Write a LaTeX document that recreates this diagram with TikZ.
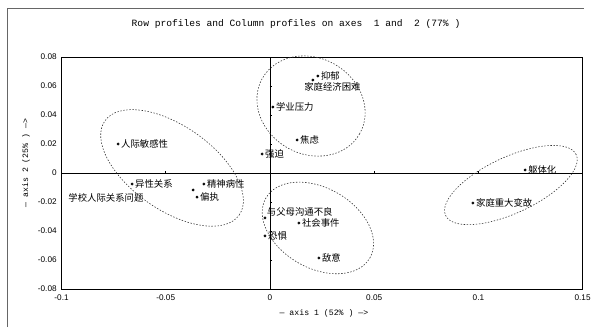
\documentclass[tikz,border=0pt]{standalone}
\usepackage{fontspec}
\setsansfont{Liberation Sans}
\setmonofont{Liberation Mono}
\newfontfamily\cjk{Noto Sans CJK SC}
\usetikzlibrary{positioning}

\begin{document}
\begin{tikzpicture}[x=62.52cm, y=43.5cm,
    lbl/.style={font=\cjk\fontsize{8}{9}\selectfont, inner sep=1.5pt},
    ticklbl/.style={font=\sffamily\fontsize{7}{8}\selectfont, inner sep=1pt},
    grp/.style={line width=0.5pt, black!80, dash pattern=on 1.2pt off 1.4pt}]

    \useasboundingbox (-0.12955,-0.10621) rectangle (0.15547,0.11931);

    % outer frame of the page (left and top only)
    \draw[black!60, line width=0.6pt] (-0.1262,-0.1062) -- (-0.1262,0.1138) -- (0.1507,0.1138);

    % title
    \node[font=\ttfamily\fontsize{8.2}{10}\selectfont] (title) at (0.0125,0.1028)
        {Row profiles and Column profiles on axes~~1 and~~2 (77\% )};

    % plot box and zero lines
    \draw[line width=0.8pt] (-0.1,-0.08) rectangle (0.15,0.08);
    \draw[line width=0.8pt] (-0.1,0) -- (0.15,0);
    \draw[line width=0.8pt] (0,-0.08) -- (0,0.08);

    % small ticks on the zero lines
    \draw[line width=0.5pt] (-0.05,0) -- +(0,0.0015);
    \draw[line width=0.5pt] (0.05,0) -- +(0,0.0015);
    \draw[line width=0.5pt] (0.1,0) -- +(0,0.0015);
    \draw[line width=0.5pt] (0,0.06) -- +(0.001,0);
    \draw[line width=0.5pt] (0,0.04) -- +(0.001,0);
    \draw[line width=0.5pt] (0,0.02) -- +(0.001,0);
    \draw[line width=0.5pt] (0,-0.02) -- +(0.001,0);
    \draw[line width=0.5pt] (0,-0.04) -- +(0.001,0);
    \draw[line width=0.5pt] (0,-0.06) -- +(0.001,0);

    % y tick labels
    \node[ticklbl, left=3pt] (y8) at (-0.1,0.08) {0.08};
    \node[ticklbl, left=3pt] (y6) at (-0.1,0.06) {0.06};
    \node[ticklbl, left=3pt] (y4) at (-0.1,0.04) {0.04};
    \node[ticklbl, left=3pt] (y2) at (-0.1,0.02) {0.02};
    \node[ticklbl, left=3pt] (y0) at (-0.1,0) {0};
    \node[ticklbl, left=3pt] (ym2) at (-0.1,-0.02) {-0.02};
    \node[ticklbl, left=3pt] (ym4) at (-0.1,-0.04) {-0.04};
    \node[ticklbl, left=3pt] (ym6) at (-0.1,-0.06) {-0.06};
    \node[ticklbl, left=3pt] (ym8) at (-0.1,-0.08) {-0.08};

    % x tick labels
    \node[ticklbl, below=4pt] (xm10) at (-0.1,-0.08) {-0.1};
    \node[ticklbl, below=4pt] (xm5) at (-0.05,-0.08) {-0.05};
    \node[ticklbl, below=4pt] (x0) at (0,-0.08) {0};
    \node[ticklbl, below=4pt] (x5) at (0.05,-0.08) {0.05};
    \node[ticklbl, below=4pt] (x10) at (0.1,-0.08) {0.1};
    \node[ticklbl, below=4pt] (x15) at (0.15,-0.08) {0.15};

    % axis titles
    \node[font=\ttfamily\fontsize{7}{8}\selectfont] (xtitle) at (0.0259,-0.0966) {— axis 1 (52\% ) —>};
    \node[font=\ttfamily\fontsize{7}{8}\selectfont, rotate=90] (ytitle) at (-0.1171,0.0069) {— axis 2 (25\% ) —>};

    % points, top group
    \filldraw (0.0230,0.0669) circle (1pt) node[lbl, right=1pt] (yiyu) {抑郁};
    \filldraw (0.0206,0.0641) circle (1pt) node[lbl, below right=0pt and -9pt] (jingji) {家庭经济困难};
    \filldraw (0.0014,0.0455) circle (1pt) node[lbl, right=1pt] (xueye) {学业压力};
    \filldraw (0.0130,0.0228) circle (1pt) node[lbl, right=1pt] (jiaolv) {焦虑};
    \filldraw (-0.0038,0.0131) circle (1pt) node[lbl, right=1pt] (qiangpo) {强迫};

    % points, left group
    \filldraw (-0.0729,0.0200) circle (1pt) node[lbl, right=1pt] (minganxing) {人际敏感性};
    \filldraw (-0.0662,-0.0076) circle (1pt) node[lbl, right=1pt] (yixing) {异性关系};
    \node[lbl] (xuexiao) at (-0.0787,-0.0172) {学校人际关系问题};
    \filldraw (-0.0317,-0.0076) circle (1pt) node[lbl, right=1pt] (jingshen) {精神病性};
    \filldraw (-0.0369,-0.0117) circle (1pt);
    \filldraw (-0.0350,-0.0166) circle (1pt) node[lbl, right=1pt] (pianzhi) {偏执};

    % points, bottom group
    \filldraw (-0.0024,-0.0310) circle (1pt) node[lbl, above right=0pt and 0pt] (fumu) {与父母沟通不良};
    \filldraw (0.0139,-0.0345) circle (1pt) node[lbl, right=1pt] (shehui) {社会事件};
    \filldraw (-0.0024,-0.0434) circle (1pt) node[lbl, right=1pt] (kongju) {恐惧};
    \filldraw (0.0235,-0.0586) circle (1pt) node[lbl, right=1pt] (diyi) {敌意};

    % points, right group
    \filldraw (0.1224,0.0021) circle (1pt) node[lbl, right=1pt] (quti) {躯体化};
    \filldraw (0.0974,-0.0207) circle (1pt) node[lbl, right=1pt] (biangu) {家庭重大变故};

    % dotted groups
    \draw[grp, rotate around={-35:(-0.0470,0.0035)}] (-0.0470,0.0035) ellipse [x radius=2.46cm, y radius=1.26cm];
    \draw[grp, rotate around={-30:(0.0197,0.0462)}] (0.0197,0.0462) ellipse [x radius=1.68cm, y radius=1.44cm];
    \draw[grp, rotate around={-30:(0.0230,-0.0379)}] (0.0230,-0.0379) ellipse [x radius=1.8cm, y radius=1.2cm];
    \draw[grp, rotate around={25:(0.1156,-0.0083)}] (0.1156,-0.0083) ellipse [x radius=2.16cm, y radius=0.84cm];

\end{tikzpicture}
\end{document}
